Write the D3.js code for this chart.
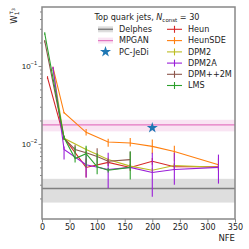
<!DOCTYPE html>
<html>
<head>
<meta charset="utf-8">
<script src="https://cdn.jsdelivr.net/npm/d3@7"></script>
<style>
  body { margin: 0; background: #fff; }
  svg { display: block; font-family: 'DejaVu Sans', sans-serif; }
</style>
</head>
<body>
<div id="chart"></div>
<script>
// Reference lines (Delphes and MPGAN with bands), PC-JeDi point
const delphes = { value: 0.00268, lo: 0.00177, hi: 0.00357 }
const mpgan = { value: 0.0176, lo: 0.0145, hi: 0.0204 }
const pcjedi = { nfe: 200, value: 0.0161 }

// Samplers: NFE, W1 value, lower and upper error bar ends
const heunNfe = [10, 40, 80, 120, 160, 200, 240, 320]
const heunVal = [0.071, 0.0120, 0.0050, 0.0058, 0.0050, 0.0060, 0.0051, 0.0051]
const heunLo = [0.068, 0.0112, 0.0037, 0.0052, 0.0045, 0.0054, 0.0046, 0.0046]
const heunHi = [0.074, 0.0128, 0.0065, 0.0064, 0.0055, 0.0066, 0.0056, 0.0056]

const heunSdeNfe = [20, 40, 80, 120, 160, 200, 240, 320]
const heunSdeVal = [0.095, 0.0251, 0.0141, 0.0106, 0.0103, 0.0093, 0.0080, 0.0054]
const heunSdeLo = [0.092, 0.0245, 0.0128, 0.0092, 0.0093, 0.0075, 0.0060, 0.0045]
const heunSdeHi = [0.098, 0.0257, 0.0156, 0.0117, 0.0119, 0.0114, 0.0095, 0.0065]

const dpm2Nfe = [20, 40, 80, 120, 160, 200, 240, 320]
const dpm2Val = [0.090, 0.0118, 0.0085, 0.0063, 0.0052, 0.0046, 0.0053, 0.0050]
const dpm2Lo = [0.087, 0.0112, 0.0080, 0.0059, 0.0049, 0.0043, 0.0050, 0.0047]
const dpm2Hi = [0.093, 0.0124, 0.0090, 0.0067, 0.0055, 0.0049, 0.0056, 0.0053]

const dpm2aNfe = [20, 40, 80, 120, 160, 200, 240, 320]
const dpm2aVal = [0.095, 0.0085, 0.0054, 0.0047, 0.0050, 0.0043, 0.0047, 0.0050]
const dpm2aLo = [0.092, 0.0063, 0.0037, 0.0027, 0.0047, 0.0021, 0.0030, 0.0031]
const dpm2aHi = [0.098, 0.0093, 0.0073, 0.0077, 0.0053, 0.0077, 0.0077, 0.0073]

const dpmppNfe = [5, 40, 60, 80, 100, 120, 160]
const dpmppVal = [0.208, 0.0118, 0.0085, 0.0077, 0.0069, 0.0060, 0.0063]
const dpmppLo = [0.200, 0.0112, 0.0075, 0.0073, 0.0054, 0.0056, 0.0051]
const dpmppHi = [0.216, 0.0124, 0.0098, 0.0081, 0.0088, 0.0064, 0.0080]

const lmsNfe = [5, 40, 60, 80, 100, 120, 160]
const lmsVal = [0.261, 0.0120, 0.0065, 0.0075, 0.0051, 0.0046, 0.0050]
const lmsLo = [0.252, 0.0114, 0.0058, 0.0051, 0.0041, 0.0043, 0.0035]
const lmsHi = [0.270, 0.0126, 0.0093, 0.0095, 0.0076, 0.0049, 0.0080]

const SERIES = [
  { name: 'Heun', color: '#d62728', nfe: heunNfe, val: heunVal, lo: heunLo, hi: heunHi },
  { name: 'HeunSDE', color: '#ff7f0e', nfe: heunSdeNfe, val: heunSdeVal, lo: heunSdeLo, hi: heunSdeHi },
  { name: 'DPM2', color: '#bcbd22', nfe: dpm2Nfe, val: dpm2Val, lo: dpm2Lo, hi: dpm2Hi },
  { name: 'DPM2A', color: '#9a1ed8', nfe: dpm2aNfe, val: dpm2aVal, lo: dpm2aLo, hi: dpm2aHi },
  { name: 'DPM++2M', color: '#8c564b', nfe: dpmppNfe, val: dpmppVal, lo: dpmppLo, hi: dpmppHi },
  { name: 'LMS', color: '#2ca02c', nfe: lmsNfe, val: lmsVal, lo: lmsLo, hi: lmsHi }
]

const xTicks = [0, 50, 100, 150, 200, 250, 300, 350]

// Layout
const W = 249
const H = 249
const M = { left: 42, right: 235, top: 7, bottom: 219 }
const SPINE = '#888888'

const svg = d3.select('#chart').append('svg')
  .attr('width', W)
  .attr('height', H)

const x = d3.scaleLinear().domain([0, 350]).range([M.left, M.right])
const y = d3.scaleLog().domain([1.09e-3, 0.5706]).range([M.bottom, M.top])

const plot = svg.append('g')
svg.append('defs').append('clipPath').attr('id', 'clip')
  .append('rect')
  .attr('x', M.left).attr('y', M.top)
  .attr('width', M.right - M.left).attr('height', M.bottom - M.top)
plot.attr('clip-path', 'url(#clip)')

// Bands
plot.append('rect')
  .attr('x', M.left).attr('width', M.right - M.left)
  .attr('y', y(delphes.hi)).attr('height', y(delphes.lo) - y(delphes.hi))
  .attr('fill', '#dedede')
plot.append('line')
  .attr('x1', M.left).attr('x2', M.right)
  .attr('y1', y(delphes.value)).attr('y2', y(delphes.value))
  .attr('stroke', '#808080').attr('stroke-width', 1.5)

plot.append('rect')
  .attr('x', M.left).attr('width', M.right - M.left)
  .attr('y', y(mpgan.hi)).attr('height', y(mpgan.lo) - y(mpgan.hi))
  .attr('fill', '#e377c2').attr('opacity', 0.2)
plot.append('line')
  .attr('x1', M.left).attr('x2', M.right)
  .attr('y1', y(mpgan.value)).attr('y2', y(mpgan.value))
  .attr('stroke', '#e377c2').attr('stroke-width', 1.2)

// Sampler curves with error bars
const line = d3.line().x(d => x(d.nfe)).y(d => y(d.val))
SERIES.forEach(s => {
  const pts = s.nfe.map((n, i) => ({ nfe: n, val: s.val[i], lo: s.lo[i], hi: s.hi[i] }))
  const g = plot.append('g')
  g.append('path')
    .datum(pts)
    .attr('d', line)
    .attr('fill', 'none')
    .attr('stroke', s.color)
    .attr('stroke-width', 1.1)
  g.selectAll('line')
    .data(pts)
    .join('line')
    .attr('x1', d => x(d.nfe)).attr('x2', d => x(d.nfe))
    .attr('y1', d => y(d.hi)).attr('y2', d => y(d.lo))
    .attr('stroke', s.color)
    .attr('stroke-width', 1.1)
})

// PC-JeDi star
const star = d3.symbol().type(d3.symbolStar).size(38)
plot.append('path')
  .attr('d', star())
  .attr('transform', `translate(${x(pcjedi.nfe)},${y(pcjedi.value)})`)
  .attr('fill', '#1f77b4')

// Axes
const xAxis = svg.append('g')
  .attr('transform', `translate(0,${M.bottom})`)
  .call(d3.axisBottom(x).tickValues(xTicks).tickSize(3.5).tickPadding(2).tickFormat(d3.format('d')))
xAxis.select('.domain').remove()
xAxis.selectAll('line').attr('stroke', SPINE)
xAxis.selectAll('text').attr('font-size', 8).attr('fill', '#222')
  .attr('font-family', 'DejaVu Sans')

const minors = []
for (let e = -3; e <= -1; e++) {
  for (let k = 1; k <= 9; k++) {
    const v = k * Math.pow(10, e)
    if (v >= 1.09e-3 && v <= 0.5706 && k !== 1) minors.push(v)
  }
}
const yMinor = svg.append('g')
  .attr('transform', `translate(${M.left},0)`)
  .call(d3.axisLeft(y).tickValues(minors).tickSize(2).tickFormat(''))
yMinor.select('.domain').remove()
yMinor.selectAll('line').attr('stroke', SPINE)

const yMajor = svg.append('g')
  .attr('transform', `translate(${M.left},0)`)
  .call(d3.axisLeft(y).tickValues([0.01, 0.1]).tickSize(3.5).tickFormat(''))
yMajor.select('.domain').remove()
yMajor.selectAll('line').attr('stroke', SPINE)
yMajor.selectAll('.tick').each(function (d) {
  const t = d3.select(this).append('text')
    .attr('x', -5).attr('dy', '0.32em')
    .attr('text-anchor', 'end')
    .attr('font-size', 8).attr('fill', '#222')
  t.append('tspan').text('10')
  t.append('tspan').attr('font-size', 5.6).attr('dy', '-0.75em')
    .text('\u2212' + Math.round(-Math.log10(d)))
})

// Frame
svg.append('rect')
  .attr('x', M.left).attr('y', M.top)
  .attr('width', M.right - M.left).attr('height', M.bottom - M.top)
  .attr('fill', 'none').attr('stroke', SPINE).attr('stroke-width', 1.5)

// Axis labels
svg.append('text')
  .attr('x', M.right).attr('y', 241)
  .attr('text-anchor', 'end')
  .attr('font-size', 8.5).attr('fill', '#222')
  .text('NFE')

const yl = svg.append('text')
  .attr('transform', `translate(17,${M.top + 1}) rotate(-90)`)
  .attr('text-anchor', 'end')
  .attr('font-size', 8.5).attr('fill', '#222')
yl.append('tspan').text('W')
yl.append('tspan').attr('font-size', 6).attr('dy', 2).text('1')
yl.append('tspan').attr('font-size', 6).attr('dy', -6).attr('dx', -3).text('\u03C4')
yl.append('tspan').attr('font-size', 4.5).attr('dy', 1.5).text('3')

// Legend
const legend = svg.append('g').attr('font-size', 8.1).attr('fill', '#222')
const title = legend.append('text').attr('x', 147).attr('y', 20).attr('text-anchor', 'middle')
title.append('tspan').text('Top quark jets, ')
title.append('tspan').attr('font-style', 'italic').text('N')
title.append('tspan').attr('font-size', 5.5).attr('dy', 2).text('const')
title.append('tspan').attr('dy', -2).text(' = 30')

const ROW = [29.3, 40.6, 51.9, 63.1, 74.3, 85.5]
const c1 = 98
const c2 = 167

// Delphes handle
legend.append('rect').attr('x', c1).attr('y', ROW[0] - 3).attr('width', 15).attr('height', 6).attr('fill', '#dedede')
legend.append('line').attr('x1', c1).attr('x2', c1 + 15).attr('y1', ROW[0]).attr('y2', ROW[0])
  .attr('stroke', '#808080').attr('stroke-width', 1.5)
legend.append('text').attr('x', c1 + 21).attr('y', ROW[0]).attr('dy', '0.35em').text('Delphes')
// MPGAN handle
legend.append('rect').attr('x', c1).attr('y', ROW[1] - 3).attr('width', 15).attr('height', 6)
  .attr('fill', '#e377c2').attr('opacity', 0.2)
legend.append('line').attr('x1', c1).attr('x2', c1 + 15).attr('y1', ROW[1]).attr('y2', ROW[1])
  .attr('stroke', '#e377c2').attr('stroke-width', 1.2)
legend.append('text').attr('x', c1 + 21).attr('y', ROW[1]).attr('dy', '0.35em').text('MPGAN')
// PC-JeDi handle
legend.append('path').attr('d', star()).attr('transform', `translate(${c1 + 7.5},${ROW[2]})`).attr('fill', '#1f77b4')
legend.append('text').attr('x', c1 + 21).attr('y', ROW[2]).attr('dy', '0.35em').text('PC-JeDi')

SERIES.forEach((s, i) => {
  const yy = ROW[i]
  legend.append('line').attr('x1', c2).attr('x2', c2 + 15).attr('y1', yy).attr('y2', yy)
    .attr('stroke', s.color).attr('stroke-width', 1.1)
  legend.append('line').attr('x1', c2 + 7.5).attr('x2', c2 + 7.5).attr('y1', yy - 3.5).attr('y2', yy + 3.5)
    .attr('stroke', s.color).attr('stroke-width', 1.1)
  legend.append('text').attr('x', c2 + 21).attr('y', yy).attr('dy', '0.35em').text(s.name)
})
</script>
</body>
</html>
